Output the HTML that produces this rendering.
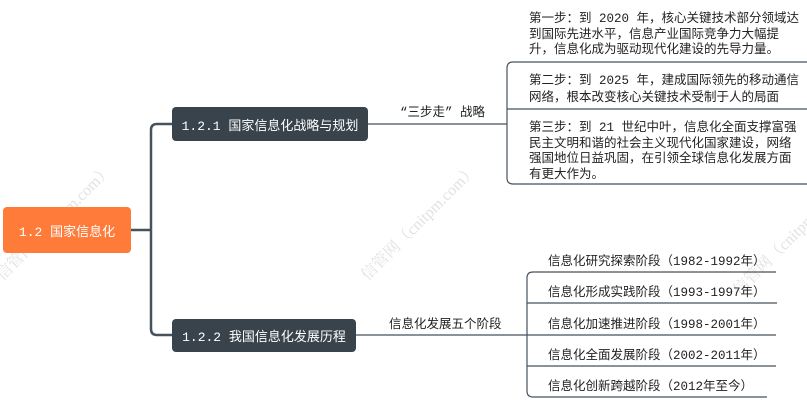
<!DOCTYPE html>
<html><head><meta charset="utf-8"><style>
body{margin:0;width:807px;height:414px;background:#fff;position:relative;overflow:hidden;font-family:"Liberation Mono","Noto Sans CJK SC",monospace;}
.t{position:absolute;font-size:12.5px;color:#222;white-space:nowrap;line-height:15.5px}
.n{position:absolute;color:#fff;font-size:13px;display:flex;align-items:center;justify-content:center;border-radius:4px}
.wm{position:absolute;color:#e2e2e2;font-size:16px;transform:rotate(-45deg);white-space:nowrap;font-family:"Liberation Serif","Noto Serif CJK SC",serif}
</style></head><body>
<div class="wm" style="left:-25px;top:210px">信管网（cnitpm.com）</div>
<div class="wm" style="left:340px;top:210px">信管网（cnitpm.com）</div>
<div class="wm" style="left:712px;top:225px">信管网（cnitpm.com）</div>
<svg width="807" height="414" style="position:absolute;left:0;top:0" fill="none">
<g stroke="#46525c" stroke-width="2.5">
<path d="M131 230 H151"/>
<path d="M172 124 H157 Q151 124 151 130 V329 Q151 335 157 335 H172"/>
</g>
<g stroke="#46525c" stroke-width="1.2">
<path d="M368 124 H507"/>
<path d="M807 62 H513 Q507 62 507 68 V178 Q507 184 513 184 H807"/>
<path d="M507 109 H807"/>
<path d="M356 335 H527"/>
<path d="M776 272 H533 Q527 272 527 278 V391 Q527 397 533 397 H767"/>
<path d="M527 303 H777 M527 335 H776 M527 366 H776"/>
</g>
</svg>
<div class="n" style="left:3px;top:207px;width:128px;height:46px;background:#ff7b39">1.2 国家信息化</div>
<div class="n" style="left:172px;top:107px;width:196px;height:34px;background:#38434c">1.2.1 国家信息化战略与规划</div>
<div class="n" style="left:172px;top:319px;width:184px;height:33px;background:#38434c">1.2.2 我国信息化发展历程</div>
<div class="t" style="left:400px;top:106px">“三步走” 战略</div>
<div class="t" style="left:389px;top:318px">信息化发展五个阶段</div>
<div class="t" style="left:529px;top:12px;font-size:12.5px">第一步：到 2020 年，核心关键技术部分领域达<br>到国际先进水平，信息产业国际竞争力大幅提<br>升，信息化成为驱动现代化建设的先导力量。</div>
<div class="t" style="left:529px;top:73px;font-size:12.5px;line-height:17px">第二步：到 2025 年，建成国际领先的移动通信<br>网络，根本改变核心关键技术受制于人的局面</div>
<div class="t" style="left:529px;top:121px;font-size:12.5px">第三步：到 21 世纪中叶，信息化全面支撑富强<br>民主文明和谐的社会主义现代化国家建设，网络<br>强国地位日益巩固，在引领全球信息化发展方面<br>有更大作为。</div>
<div class="t" style="left:548px;top:255px">信息化研究探索阶段（1982-1992年）</div>
<div class="t" style="left:548px;top:286px">信息化形成实践阶段（1993-1997年）</div>
<div class="t" style="left:548px;top:318px">信息化加速推进阶段（1998-2001年）</div>
<div class="t" style="left:548px;top:349px">信息化全面发展阶段（2002-2011年）</div>
<div class="t" style="left:548px;top:380px">信息化创新跨越阶段（2012年至今）</div>
</body></html>
